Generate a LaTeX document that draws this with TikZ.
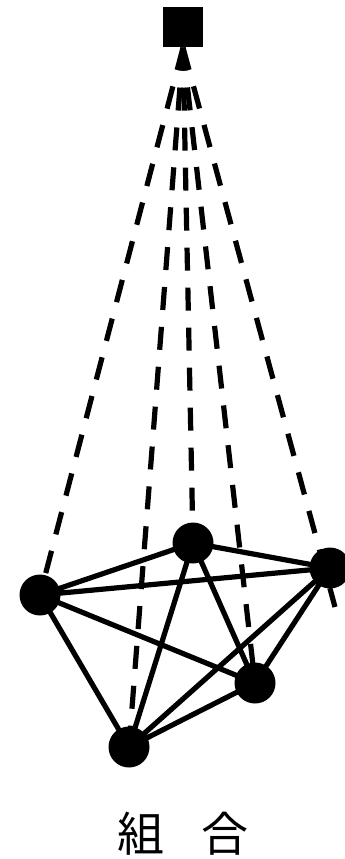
\documentclass[tikz,border=0pt]{standalone}
\usepackage{fontspec}
\newfontfamily\cjk{Noto Sans CJK JP}
\begin{document}
\begin{tikzpicture}[x=1pt,y=-1pt,
  vert/.style={circle,fill=black,inner sep=0pt,minimum size=41pt},
  topsq/.style={rectangle,fill=black,inner sep=0pt,minimum size=40pt},
  edge/.style={line width=5.2pt},
  dline/.style={line width=5.2pt,dash pattern=on 23pt off 17pt}]
\useasboundingbox (0,0) rectangle (345,859);
\node[topsq] (s) at (183,27.5) {};
\coordinate (rend) at (335,607);
\coordinate (a) at (40,595);
\coordinate (b) at (193,543);
\coordinate (c) at (330,568);
\coordinate (d) at (255,683);
\coordinate (e) at (129,747);
\draw[dline] (s.south) -- (a);
\draw[dline] (s.south) -- (b);
\draw[dline] (s.south) -- (rend);
\draw[dline] (s.south) -- (d);
\draw[dline] (s.south) -- (e);
\draw[edge] (a) -- (b) (a) -- (c) (a) -- (d) (a) -- (e)
  (b) -- (c) (b) -- (d) (b) -- (e)
  (c) -- (d) (c) -- (e) (d) -- (e);
\node[vert] (na) at (a) {};
\node[vert] (nb) at (b) {};
\node[vert] (nc) at (c) {};
\node[vert] (nd) at (d) {};
\node[vert] (ne) at (e) {};
\node (lab) at (183,834) {\cjk\fontsize{47}{47}\selectfont 組\hspace{38pt}合};
\end{tikzpicture}
\end{document}
